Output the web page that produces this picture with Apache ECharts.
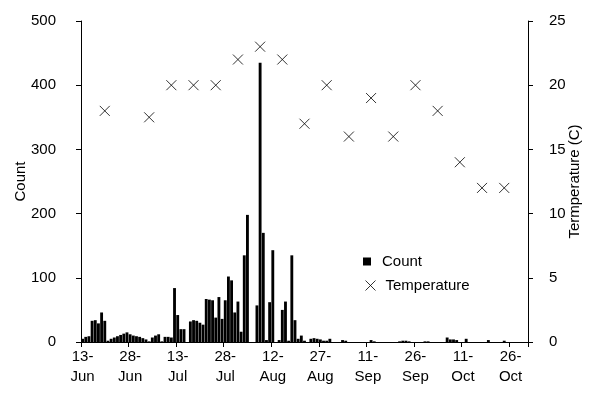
<!DOCTYPE html>
<html><head><meta charset="utf-8">
<script src="https://cdn.jsdelivr.net/npm/echarts@6/dist/echarts.min.js"></script>
<style>html,body{margin:0;padding:0;background:#fff}#c{width:590px;height:396px}</style>
</head><body><div id="c"></div>
<script>
// Daily counts starting 13-Jun (141 days, to 31-Oct)
const startDay = 13, startMonth = 5; // 13-Jun
const counts = [
  5,8,9,33,34,29,46,33,2,5,
  7,9,11,13,15,12,10,9,8,6,
  4,1,7,10,12,1,8,8,7,84,
  42,20,20,0,32,34,33,30,27,67,
  66,65,38,70,36,65,102,96,46,63,
  16,135,198,0,0,57,435,170,3,62,
  143,0,3,50,63,2,135,34,5,10,
  2,0,5,6,5,4,2,2,5,0,
  0,0,3,2,0,0,0,0,0,0,
  0,3,1,0,0,0,0,0,0,0,
  1,2,2,1,0,0,0,0,1,1,
  0,0,0,0,0,7,4,4,3,0,
  0,5,0,0,0,0,0,0,3,0,
  0,0,0,2,0,0,0,0,0,0,
  0
];
const tempDates = ['20-Jun','4-Jul','11-Jul','18-Jul','25-Jul','1-Aug','8-Aug','15-Aug','22-Aug','29-Aug','5-Sep','12-Sep','19-Sep','26-Sep','3-Oct','10-Oct','17-Oct','24-Oct'];
const temps = [18,17.5,20,20,20,22,23,22,17,20,16,19,16,20,18,14,12,12];
const tickLabels = ['13-Jun','28-Jun','13-Jul','28-Jul','12-Aug','27-Aug','11-Sep','26-Sep','11-Oct','26-Oct'];

const monthNames = ['Jan','Feb','Mar','Apr','May','Jun','Jul','Aug','Sep','Oct','Nov','Dec'];
const categories = counts.map((_, i) => {
  const d = new Date(2001, startMonth, startDay + i);
  return d.getDate() + '-' + monthNames[d.getMonth()];
});
const isTick = (i) => tickLabels.indexOf(categories[i]) >= 0;

const font = '"Liberation Sans", Arial, sans-serif';
const fs = 15;
const chart = echarts.init(document.getElementById('c'), null, {renderer: 'canvas'});
const crossPath = 'path://M0,0L10,10M10,0L0,10';
chart.setOption({
  animation: false,
  textStyle: {fontFamily: font, color: '#000'},
  grid: {left: 81, right: 62, top: 21, bottom: 54, containLabel: false, outerBoundsMode: 'none'},
  legend: [
    {data: [{name: 'Count', icon: 'path://M0,0H10V10H0Z'}], left: 363, top: 254, padding: 0,
     itemWidth: 20, itemHeight: 8, textStyle: {fontFamily: font, fontSize: fs, color: '#000'}},
    {data: [{name: 'Temperature', icon: crossPath, itemStyle: {color: 'none', borderColor: '#000', borderWidth: 1}}],
     left: 363, top: 278, padding: 0, itemWidth: 20, itemHeight: 10,
     textStyle: {fontFamily: font, fontSize: fs, color: '#000'}}
  ],
  xAxis: {
    type: 'category', data: categories, boundaryGap: true,
    axisLine: {lineStyle: {color: '#000', width: 1}},
    axisTick: {show: true, interval: (i) => isTick(i), length: 5, lineStyle: {color: '#000'}},
    axisLabel: {interval: (i) => isTick(i), formatter: (v) => v.replace('-', '-\n'),
      color: '#000', fontFamily: font, fontSize: fs, lineHeight: 20, margin: 5}
  },
  yAxis: [
    {type: 'value', min: 0, max: 500, interval: 100, name: 'Count', nameLocation: 'middle', nameRotate: 90, nameGap: 53,
     nameMoveOverlap: false,
     nameTextStyle: {fontFamily: font, fontSize: fs, color: '#000'},
     axisLine: {show: true, lineStyle: {color: '#000'}}, axisTick: {show: true, length: 5, lineStyle: {color: '#000'}},
     splitLine: {show: false}, axisLabel: {color: '#000', fontFamily: font, fontSize: fs, margin: 25}},
    {type: 'value', min: 0, max: 25, interval: 5, position: 'right', name: 'Termperature (C)', nameLocation: 'middle', nameRotate: 90, nameGap: 39,
     nameMoveOverlap: false,
     nameTextStyle: {fontFamily: font, fontSize: fs, color: '#000'},
     axisLine: {show: true, lineStyle: {color: '#000'}}, axisTick: {show: true, length: 5, lineStyle: {color: '#000'}},
     splitLine: {show: false}, axisLabel: {color: '#000', fontFamily: font, fontSize: fs, margin: 21}}
  ],
  series: [
    {name: 'Count', type: 'bar', data: counts, itemStyle: {color: '#000'}, barCategoryGap: '10%'},
    {name: 'Temperature', type: 'scatter', yAxisIndex: 1, data: tempDates.map((d, i) => [d, temps[i]]),
     symbol: crossPath, symbolSize: 10, itemStyle: {color: 'none', borderColor: '#000', borderWidth: 1}}
  ]
});
</script></body></html>
